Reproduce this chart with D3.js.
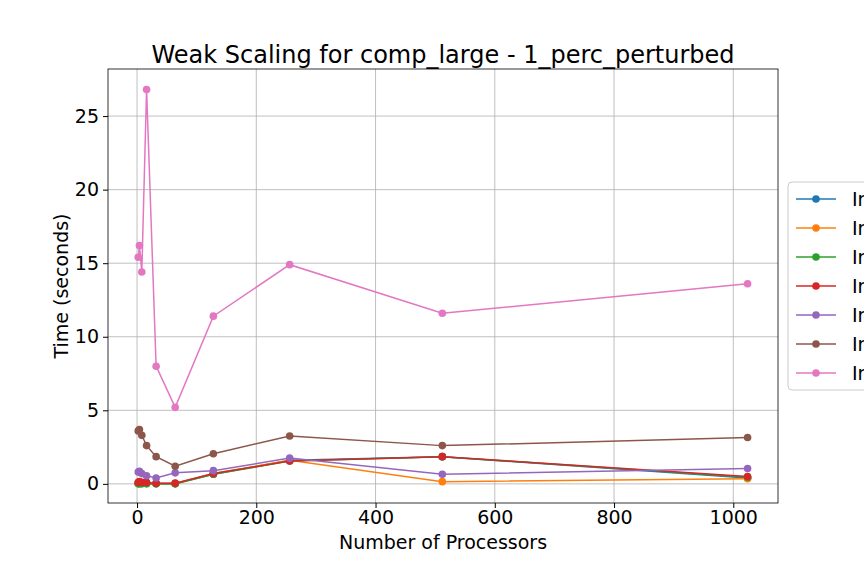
<!DOCTYPE html>
<html lang="en">
<head>
<meta charset="UTF-8">
<style>
  body { margin: 0; background: #fff; font-family: "DejaVu Sans", sans-serif; overflow: hidden; }
</style>
</head>
<body>
<div id="chart"></div>
<script src="https://d3js.org/d3.v7.min.js"></script>
<script>
// Data
const procs = [2, 4, 8, 16, 32, 64, 128, 256, 512, 1024];
const seriesNames = ["Input 1", "Input 2", "Input 3", "Input 4", "Input 5", "Input 6", "Input 7"];
const s1 = [0.05, 0.05, 0.05, 0.05, 0.02, 0.02, 0.65, 1.6, 1.85, 0.4];
const s2 = [0.05, 0.05, 0.05, 0.05, 0.02, 0.02, 0.7, 1.6, 0.15, 0.35];
const s3 = [0.0, 0.0, 0.0, 0.0, 0.0, 0.0, 0.65, 1.55, 1.85, 0.45];
const s4 = [0.1, 0.15, 0.1, 0.1, 0.05, 0.05, 0.7, 1.55, 1.85, 0.5];
const s5 = [0.8, 0.85, 0.7, 0.55, 0.4, 0.75, 0.9, 1.75, 0.65, 1.05];
const s6 = [3.6, 3.7, 3.3, 2.6, 1.85, 1.2, 2.05, 3.25, 2.6, 3.15];
const s7 = [15.4, 16.2, 14.4, 26.8, 8.0, 5.2, 11.4, 14.9, 11.6, 13.6];
const allSeries = [s1, s2, s3, s4, s5, s6, s7];
const colors = ["#1f77b4", "#ff7f0e", "#2ca02c", "#d62728", "#9467bd", "#8c564b", "#e377c2"];
const xTicks = [0, 200, 400, 600, 800, 1000];
const yTicks = [0, 5, 10, 15, 20, 25];

const W = 864, H = 576;
const L = 108, R = 778, T = 69, B = 503;

const svg = d3.select("#chart").append("svg").attr("width", W).attr("height", H);

const x = d3.scaleLinear().domain([-48.7, 1075]).range([L, R]);
const y = d3.scaleLinear().domain([-1.3, 28.2]).range([B, T]);

// grid
svg.append("g").selectAll("line").data(xTicks).enter().append("line")
  .attr("x1", d => x(d)).attr("x2", d => x(d)).attr("y1", T).attr("y2", B)
  .attr("stroke", "#b0b0b0").attr("stroke-width", 0.8);
svg.append("g").selectAll("line").data(yTicks).enter().append("line")
  .attr("y1", d => y(d)).attr("y2", d => y(d)).attr("x1", L).attr("x2", R)
  .attr("stroke", "#b0b0b0").attr("stroke-width", 0.8);

// axes
const xAxis = svg.append("g").attr("transform", `translate(0,${B})`)
  .call(d3.axisBottom(x).tickValues(xTicks).tickFormat(d3.format("d")).tickSize(5).tickPadding(3));
const yAxis = svg.append("g").attr("transform", `translate(${L},0)`)
  .call(d3.axisLeft(y).tickValues(yTicks).tickSize(5).tickPadding(4));
[xAxis, yAxis].forEach(a => {
  a.select(".domain").remove();
  a.selectAll("text").attr("font-size", 19).attr("font-family", "DejaVu Sans").attr("fill", "#000");
  a.selectAll("line").attr("stroke", "#000");
});
svg.append("rect").attr("x", L).attr("y", T).attr("width", R - L).attr("height", B - T)
  .attr("fill", "none").attr("stroke", "#000").attr("stroke-width", 0.8);

// lines
const line = d3.line().x((d, i) => x(procs[i])).y(d => y(d));
allSeries.forEach((s, k) => {
  const g = svg.append("g");
  g.append("path").datum(s).attr("d", line).attr("fill", "none")
    .attr("stroke", colors[k]).attr("stroke-width", 1.5);
  g.selectAll("circle").data(s).enter().append("circle")
    .attr("cx", (d, i) => x(procs[i])).attr("cy", d => y(d)).attr("r", 3.8)
    .attr("fill", colors[k]);
});

// labels
svg.append("text").attr("x", (L + R) / 2).attr("y", 63).attr("text-anchor", "middle")
  .attr("font-size", 24).text("Weak Scaling for comp_large - 1_perc_perturbed");
svg.append("text").attr("x", (L + R) / 2).attr("y", 549).attr("text-anchor", "middle")
  .attr("font-size", 19).text("Number of Processors");
svg.append("text").attr("transform", `translate(68,${(T + B) / 2}) rotate(-90)`)
  .attr("text-anchor", "middle").attr("font-size", 19).text("Time (seconds)");

// legend (clipped by page edge as in the reference)
const lg = svg.append("g").attr("transform", "translate(788,182)");
lg.append("rect").attr("width", 120).attr("height", 208).attr("rx", 4)
  .attr("fill", "#fff").attr("stroke", "#ccc");
seriesNames.forEach((n, k) => {
  const yy = 17 + k * 29;
  lg.append("line").attr("x1", 8).attr("x2", 48).attr("y1", yy).attr("y2", yy)
    .attr("stroke", colors[k]).attr("stroke-width", 1.5);
  lg.append("circle").attr("cx", 28).attr("cy", yy).attr("r", 3.8).attr("fill", colors[k]);
  lg.append("text").attr("x", 64).attr("y", yy + 7).attr("font-size", 19).text(n);
});
</script>
</body>
</html>
